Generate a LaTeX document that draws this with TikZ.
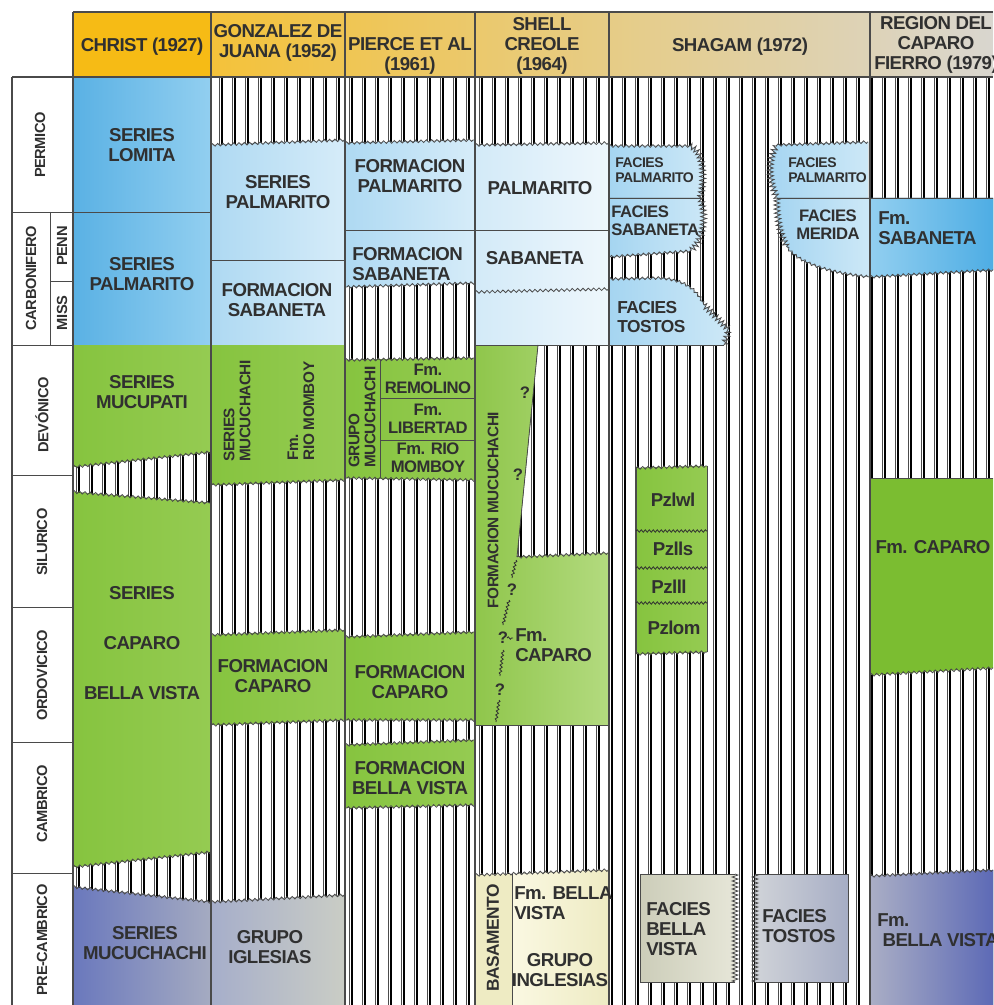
\documentclass[tikz,border=0pt]{standalone}
\usepackage{fontspec}
\setmainfont{Liberation Sans}[LetterSpace=-3]
\usetikzlibrary{decorations.pathmorphing}

\definecolor{hdrorange}{HTML}{F6BB15}
\definecolor{hdrleft}{HTML}{F4C23A}
\definecolor{hdrright}{HTML}{D9D6CF}
\definecolor{bluedark}{HTML}{5AB1E4}
\definecolor{bluelight}{HTML}{92CFF0}
\definecolor{paledark}{HTML}{AED9F2}
\definecolor{palelight}{HTML}{D6ECF9}
\definecolor{iceleft}{HTML}{D3EAF8}
\definecolor{iceright}{HTML}{EEF7FC}
\definecolor{faciesblue}{HTML}{A5D5F1}
\definecolor{faciesice}{HTML}{CDE8F7}
\definecolor{sabblue}{HTML}{4EADE4}
\definecolor{grass}{HTML}{86C43F}
\definecolor{grasslight}{HTML}{95CB52}
\definecolor{leaf}{HTML}{8FC64B}
\definecolor{leaflight}{HTML}{B3DA7F}
\definecolor{brightgreen}{HTML}{7BBD31}
\definecolor{slate}{HTML}{6A78BD}
\definecolor{slatelight}{HTML}{A5ABC1}
\definecolor{iglesias}{HTML}{A6AECA}
\definecolor{iglesiaslight}{HTML}{CACDC5}
\definecolor{cream}{HTML}{EEEBC3}
\definecolor{creamlight}{HTML}{FAF8E2}
\definecolor{khaki}{HTML}{CCCDB9}
\definecolor{khakilight}{HTML}{E6E6D8}
\definecolor{steel}{HTML}{A6ADC5}
\definecolor{steellight}{HTML}{D0D3D8}
\definecolor{bvblue}{HTML}{5D6AB6}
\definecolor{bvlight}{HTML}{AAAEC5}
\definecolor{ink}{HTML}{303030}
\definecolor{rimgray}{HTML}{4A4A4A}

\begin{document}
\begin{tikzpicture}[x=0.75pt, y=-0.75pt,
    lbl/.style={font=\fontsize{14}{15}\selectfont\bfseries, text=ink, align=center, inner sep=0pt},
    lblmid/.style={lbl, font=\fontsize{12.5}{13.5}\selectfont\bfseries},
    lblsmall/.style={lbl, font=\fontsize{10.5}{11.5}\selectfont\bfseries},
    lblrot/.style={lbl, font=\fontsize{11.5}{12}\selectfont\bfseries, rotate=90},
    era/.style={lbl, font=\fontsize{11}{12}\selectfont\bfseries, rotate=90},
    rim/.style={draw=rimgray, line width=0.6pt},
    jag/.style={draw=rimgray, line width=0.6pt, decorate, decoration={zigzag, segment length=4pt, amplitude=1pt}},
    saw/.style={draw=rimgray, line width=0.6pt, decorate, decoration={zigzag, segment length=3pt, amplitude=2.2pt}},
    wave/.style={draw=ink, line width=0.6pt, decorate, decoration={snake, segment length=3pt, amplitude=0.9pt}},
    hatch/.style={line width=1.9pt, black},
    hatchthin/.style={line width=0.4pt, black!70}]

    \useasboundingbox (0,0) rectangle (993,1005);
    \fill[white] (0,0) rectangle (993,1005);

    % header
    \fill[hdrorange] (73,12) rectangle (211,77);
    \fill[left color=hdrleft, right color=hdrright] (211,12) rectangle (993,77);

    % hatched background
    \foreach \x in {79,92,...,990} {
        \draw[hatch] (\x,77) -- (\x,1005);
        \draw[hatchthin] (\x-3.2,77) -- (\x-3.2,1005);
    }
    \fill[white] (12,77) rectangle (73,1005);

    % CHRIST (1927)
    \fill[left color=bluedark, right color=bluelight] (73,77) rectangle (211,345);
    \fill[left color=grass, right color=grasslight] (73,345) -- (211,345) -- (211,452) -- (73,467) -- cycle;
    \fill[left color=grass, right color=grasslight] (73,492) -- (211,503) -- (211,852) -- (73,867) -- cycle;
    \fill[left color=slate, right color=slatelight] (73,887) -- (211,902) -- (211,1005) -- (73,1005) -- cycle;
    \draw[rim] (73,212) -- (211,212);
    \draw[jag] (211,452) -- (73,467);
    \draw[jag] (73,492) -- (211,503);
    \draw[jag] (211,852) -- (73,867);
    \draw[jag] (73,887) -- (211,902);

    % GONZALEZ DE JUANA (1952)
    \fill[left color=paledark, right color=palelight] (211,145) -- (345,140) -- (345,345) -- (211,345) -- cycle;
    \fill[left color=grass, right color=grasslight] (211,345) -- (345,345) -- (345,480) -- (211,485) -- cycle;
    \fill[left color=grass, right color=grasslight] (211,635) -- (345,630) -- (345,720) -- (211,725) -- cycle;
    \fill[left color=iglesias, right color=iglesiaslight] (211,902) -- (345,895) -- (345,1005) -- (211,1005) -- cycle;
    \draw[jag] (211,145) -- (345,140);
    \draw[rim] (211,260) -- (345,260);
    \draw[jag] (345,480) -- (211,485);
    \draw[jag] (211,635) -- (345,630);
    \draw[jag] (345,720) -- (211,725);
    \draw[jag] (211,902) -- (345,895);

    % PIERCE ET AL (1961)
    \fill[left color=paledark, right color=palelight] (345,143) -- (475,140) -- (475,283) -- (345,287) -- cycle;
    \fill[left color=grass, right color=grasslight] (345,360) -- (475,358) -- (475,480) -- (345,478) -- cycle;
    \fill[left color=grass, right color=grasslight] (345,637) -- (475,632) -- (475,720) -- (345,720) -- cycle;
    \fill[left color=grass, right color=grasslight] (345,745) -- (475,740) -- (475,805) -- (345,808) -- cycle;
    \draw[jag] (345,143) -- (475,140);
    \draw[rim] (345,230) -- (475,230);
    \draw[jag] (475,283) -- (345,287);
    \draw[jag] (345,360) -- (475,358);
    \draw[jag] (475,480) -- (345,478);
    \draw[rim] (380,360) -- (380,478);
    \draw[rim] (380,398) -- (475,398);
    \draw[rim] (380,440) -- (475,440);
    \draw[jag] (345,637) -- (475,632);
    \draw[jag] (475,720) -- (345,720);
    \draw[jag] (345,745) -- (475,740);
    \draw[jag] (475,805) -- (345,808);

    % SHELL CREOLE (1964)
    \fill[left color=iceleft, right color=iceright] (475,145) -- (609,143) -- (609,345) -- (475,345) -- cycle;
    \fill[left color=leaf, right color=leaflight] (475,345) -- (538,345) -- (517,557) -- (609,553) -- (609,725) -- (475,725) -- cycle;
    \fill[cream] (475,875) -- (512,874) -- (512,1005) -- (475,1005) -- cycle;
    \fill[left color=creamlight, right color=cream] (512,874) -- (609,870) -- (609,1005) -- (512,1005) -- cycle;
    \draw[jag] (475,145) -- (609,143);
    \draw[rim] (475,230) -- (609,230);
    \draw[jag] (475,292) -- (609,289);
    \draw[rim] (475,345) -- (609,345);
    \draw[rim] (538,345) -- (517,557);
    \draw[jag] (517,557) -- (609,553);
    \draw[rim] (475,725) -- (609,725);
    \draw[jag] (475,875) -- (609,870);
    \draw[rim] (512,874) -- (512,1005);
    \draw[wave] (516,560) -- (512,578);
    \draw[wave] (509,600) -- (503,625);
    \draw[wave] (507,638) -- (513,638);
    \draw[wave] (503,650) -- (500,676);
    \draw[wave] (499,700) -- (496,722);

    % SHAGAM (1972)
    \fill[left color=faciesblue, right color=faciesice] (609,146) -- (690,146) .. controls (706,152) and (704,185) .. (700,198) -- (609,198) -- cycle;
    \fill[left color=faciesblue, right color=faciesice] (609,198) -- (700,198) .. controls (708,218) and (702,243) .. (690,251) -- (609,257) -- cycle;
    \fill[left color=faciesblue, right color=faciesice] (609,279) -- (660,278) .. controls (688,280) and (698,292) .. (704,305) -- (729,330) -- (724,345) -- (609,345) -- cycle;
    \draw[jag] (609,146) -- (690,146);
    \draw[saw] (690,146) .. controls (706,152) and (704,185) .. (700,198);
    \draw[rim] (609,198) -- (703,198);
    \draw[saw] (700,198) .. controls (708,218) and (702,243) .. (690,251);
    \draw[jag] (690,251) -- (609,257);
    \draw[jag] (609,279) -- (660,278) .. controls (688,280) and (698,292) .. (704,305);
    \draw[saw] (704,305) -- (729,330) -- (724,345);
    \draw[rim] (609,345) -- (724,345);

    \fill[left color=faciesblue, right color=faciesice] (777,145) -- (868,142) -- (868,198) -- (777,198) .. controls (768,180) and (768,158) .. (777,145) -- cycle;
    \fill[left color=faciesblue, right color=faciesice] (777,198) -- (870,198) -- (870,277) .. controls (830,273) and (798,263) .. (787,247) .. controls (780,235) and (776,215) .. (777,198) -- cycle;
    \draw[jag] (777,145) -- (868,142);
    \draw[saw] (777,198) .. controls (768,180) and (768,158) .. (777,145);
    \draw[rim] (777,198) -- (870,198);
    \draw[saw] (777,198) .. controls (776,215) and (780,235) .. (787,247);
    \draw[jag] (787,247) .. controls (798,263) and (830,273) .. (870,277);

    \fill[left color=grass, right color=grasslight] (636,468) -- (707,466) -- (707,652) -- (636,654) -- cycle;
    \draw[jag] (636,468) -- (707,466);
    \draw[jag] (636,654) -- (707,652);
    \draw[rim] (636,468) -- (636,654);
    \draw[rim] (707,466) -- (707,652);
    \draw[wave] (636,531) -- (707,531);
    \draw[wave] (636,568) -- (707,568);
    \draw[wave] (636,603) -- (707,603);

    \fill[left color=khaki, right color=khakilight] (640,874) rectangle (735,982);
    \draw[rim] (735,874) -- (640,874) -- (640,982) -- (735,982);
    \draw[saw] (735,874) -- (735,982);
    \fill[left color=steellight, right color=steel] (755,874) rectangle (848,982);
    \draw[rim] (755,874) -- (848,874) -- (848,982) -- (755,982);
    \draw[saw] (755,874) -- (755,982);

    % REGION DEL CAPARO FIERRO (1979)
    \fill[left color=bluelight, right color=sabblue] (870,198) -- (993,198) -- (993,270) -- (870,277) -- cycle;
    \fill[brightgreen] (870,478) -- (993,478) -- (993,668) -- (870,675) -- cycle;
    \fill[left color=bvlight, right color=bvblue] (870,876) -- (993,870) -- (993,1005) -- (870,1005) -- cycle;
    \draw[rim] (870,198) -- (993,198);
    \draw[jag] (870,277) -- (993,270);
    \draw[rim] (870,478) -- (993,478);
    \draw[jag] (870,675) -- (993,668);
    \draw[jag] (870,876) -- (993,870);

    % frame
    \foreach \x in {73,211,345,475,609,870} {
        \draw[rim, line width=0.8pt] (\x,12) -- (\x,1005);
    }
    \draw[rim, line width=0.8pt] (73,12) -- (993,12);
    \draw[rim, line width=0.8pt] (12,77) -- (993,77);
    \draw[rim, line width=0.8pt] (12,77) -- (12,1005);
    \foreach \y in {212,345,475,607,742,873} {
        \draw[rim] (12,\y) -- (73,\y);
    }
    \draw[rim] (50,212) -- (50,345);
    \draw[rim] (50,281) -- (73,281);

    % header text
    \node[lbl] (christ) at (142,47) {CHRIST (1927)};
    \node[lbl] (gonzalez) at (278,43) {GONZALEZ DE\\JUANA (1952)};
    \node[lbl] (pierce) at (410,56) {PIERCE ET AL\\(1961)};
    \node[lbl] (shell) at (542,46) {SHELL\\CREOLE\\(1964)};
    \node[lbl] (shagam) at (740,47) {SHAGAM (1972)};
    \node[lbl] (fierro) at (936,45) {REGION DEL\\CAPARO\\FIERRO (1979)};

    % periods
    \node[era] (permico) at (40,145) {PERMICO};
    \node[era] (carbonifero) at (31,278) {CARBONIFERO};
    \node[era] (penn) at (62,246) {PENN};
    \node[era] (miss) at (62,313) {MISS};
    \node[era] (devonico) at (42,415) {DEVÓNICO};
    \node[era] (silurico) at (42,542) {SILURICO};
    \node[era] (ordovicico) at (42,675) {ORDOVICICO};
    \node[era] (cambrico) at (42,804) {CAMBRICO};
    \node[era] (precambrico) at (42,940) {PRE-CAMBRICO};

    % CHRIST units
    \node[lbl] (lomita) at (142,145) {SERIES\\LOMITA};
    \node[lbl] (palmarito1) at (142,274) {SERIES\\PALMARITO};
    \node[lbl] (mucupati) at (142,392) {SERIES\\MUCUPATI};
    \node[lbl] (series1) at (142,593) {SERIES};
    \node[lbl] (caparo1) at (142,643) {CAPARO};
    \node[lbl] (bellavista1) at (142,693) {BELLA VISTA};
    \node[lbl] (mucuchachi1) at (145,943) {SERIES\\MUCUCHACHI};

    % GONZALEZ units
    \node[lbl] (palmarito2) at (278,192) {SERIES\\PALMARITO};
    \node[lbl] (sabaneta2) at (277,300) {FORMACION\\SABANETA};
    \node[lblrot, align=left] (mucuchachi2) at (237,411) {SERIES\\MUCUCHACHI};
    \node[lblrot, align=left] (momboy2) at (301,411) {Fm.\\RIO MOMBOY};
    \node[lbl] (caparo2) at (273,676) {FORMACION\\CAPARO};
    \node[lbl] (iglesias2) at (270,947) {GRUPO\\IGLESIAS};

    % PIERCE units
    \node[lbl] (palmarito3) at (410,176) {FORMACION\\PALMARITO};
    \node[lbl, align=left, anchor=west] (sabaneta3) at (352,264) {FORMACION\\SABANETA};
    \node[lblrot, align=left] (grupo3) at (362,417) {GRUPO\\MUCUCHACHI};
    \node[lblmid] (remolino) at (428,379) {Fm.\\REMOLINO};
    \node[lblmid] (libertad) at (428,419) {Fm.\\LIBERTAD};
    \node[lblmid] (momboy3) at (428,458) {Fm. RIO\\MOMBOY};
    \node[lbl] (caparo3) at (410,682) {FORMACION\\CAPARO};
    \node[lbl] (bellavista3) at (410,778) {FORMACION\\BELLA VISTA};

    % SHELL units
    \node[lbl] (palmarito4) at (540,188) {PALMARITO};
    \node[lbl] (sabaneta4) at (535,258) {SABANETA};
    \node[lblrot] (formacion4) at (493,510) {FORMACION MUCUCHACHI};
    \node[lblmid] (qa) at (525,393) {?};
    \node[lblmid] (qb) at (518,475) {?};
    \node[lblmid] (qc) at (512,590) {?};
    \node[lblmid] (qd) at (503,638) {?};
    \node[lblmid] (qe) at (500,690) {?};
    \node[lbl, align=left, anchor=west] (caparo4) at (515,645) {Fm.\\CAPARO};
    \node[lbl, font=\fontsize{13}{14}\selectfont\bfseries, rotate=90] (basamento) at (493,938) {BASAMENTO};
    \node[lbl, align=left, anchor=west] (bellavista4) at (514,903) {Fm. BELLA\\VISTA};
    \node[lbl] (inglesias) at (560,970) {GRUPO\\INGLESIAS};

    % SHAGAM units
    \node[lblsmall, align=left, anchor=west] (fpalmarito5) at (615,170) {FACIES\\PALMARITO};
    \node[lblmid, align=left, anchor=west] (fsabaneta5) at (611,221) {FACIES\\SABANETA};
    \node[lbl, font=\fontsize{13}{14.5}\selectfont\bfseries, align=left, anchor=west] (ftostos5) at (617,317) {FACIES\\TOSTOS};
    \node[lblsmall, align=left, anchor=west] (fpalmarito6) at (788,170) {FACIES\\PALMARITO};
    \node[lblmid] (fmerida) at (828,225) {FACIES\\MERIDA};
    \node[lbl] (pzlwl) at (673,500) {Pzlwl};
    \node[lbl] (pzlls) at (673,549) {Pzlls};
    \node[lbl] (pzlll) at (669,587) {Pzlll};
    \node[lbl] (pzlom) at (674,628) {Pzlom};
    \node[lbl, align=left, anchor=west] (fbellavista) at (646,929) {FACIES\\BELLA\\VISTA};
    \node[lbl, align=left, anchor=west] (ftostos6) at (762,926) {FACIES\\TOSTOS};

    % FIERRO units
    \node[lbl, align=left, anchor=west] (sabaneta6) at (878,228) {Fm.\\SABANETA};
    \node[lbl] (caparo6) at (933,547) {Fm. CAPARO};
    \node[lbl, align=left, anchor=west] (bellavista6) at (877,930) {Fm.\\\hspace{4pt}BELLA VISTA};
\end{tikzpicture}
\end{document}
